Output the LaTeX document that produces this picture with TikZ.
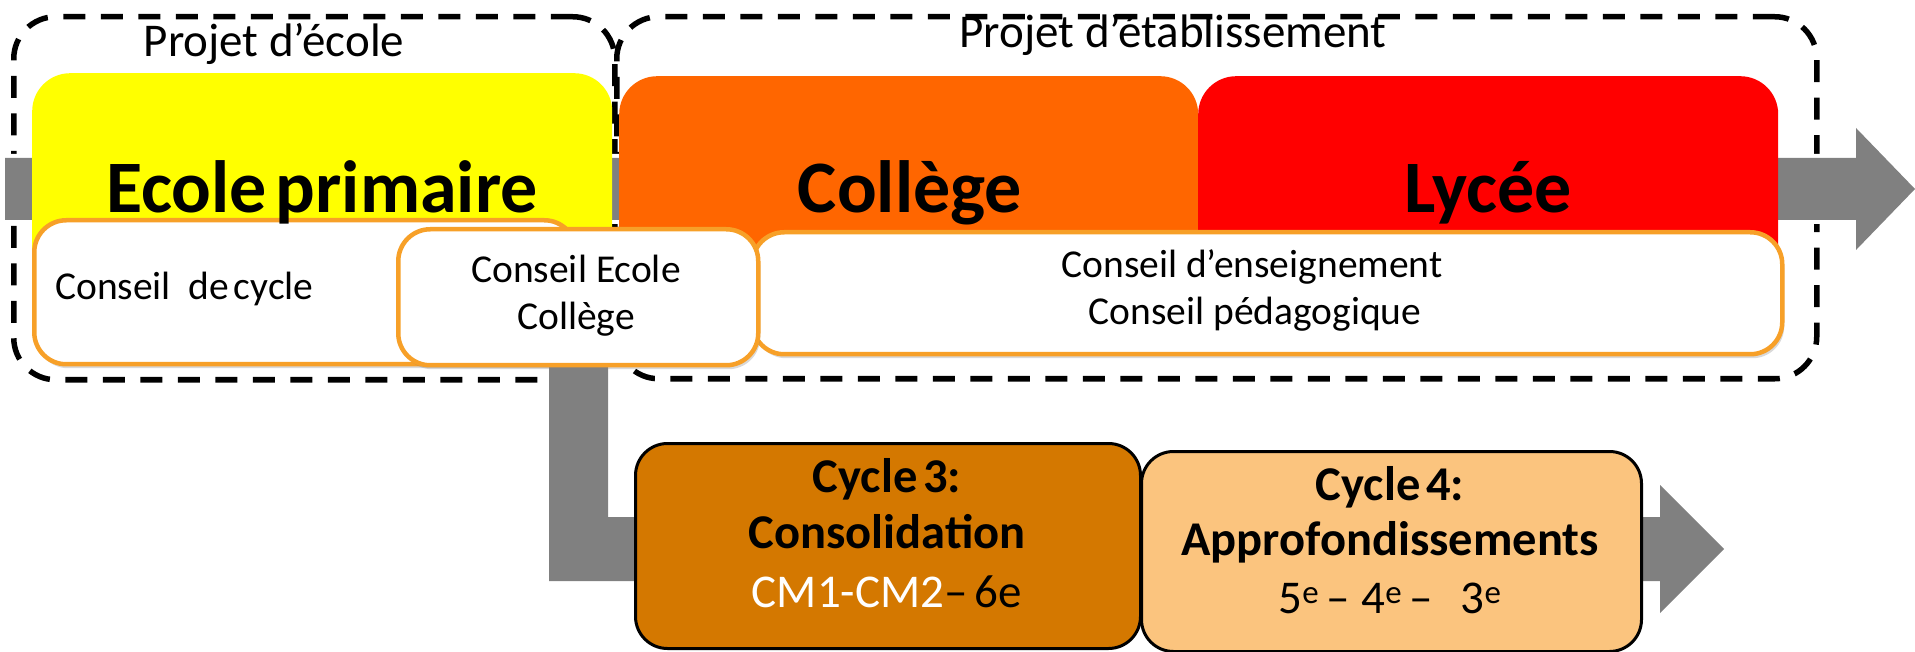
\documentclass[tikz,border=0pt]{standalone}
\usepackage{fontspec}
\setmainfont{Carlito}
\usetikzlibrary{shadows}
\definecolor{flowgrey}{RGB}{128,128,128}
\definecolor{stageyellow}{RGB}{255,255,0}
\definecolor{stageorange}{RGB}{255,102,0}
\definecolor{stagered}{RGB}{255,0,0}
\definecolor{councilorange}{RGB}{247,160,40}
\definecolor{cyclethree}{RGB}{212,120,0}
\definecolor{cyclefour}{RGB}{251,196,126}
\tikzset{
  projbox/.style={draw=black, line width=5.5pt, dash pattern=on 22pt off 15.5pt, rounded corners=42pt, inner sep=0pt, anchor=north west},
  stagebox/.style={rounded corners=38pt, inner sep=0pt, anchor=north west},
  councilbox/.style={draw=councilorange, fill=white, line width=4.5pt, rounded corners=32pt, inner sep=0pt, anchor=north west,
    drop shadow={opacity=0.3, shadow xshift=2pt, shadow yshift=-4pt}},
  cyclebox/.style={draw=black, line width=3pt, rounded corners=32pt, inner sep=0pt, anchor=north west},
  flow/.style={fill=flowgrey, preaction={draw=white, line width=8pt}},
  projtext/.style={anchor=base, inner sep=0pt, font=\fontsize{47}{52}\selectfont},
  stagetext/.style={anchor=base, inner sep=0pt, font=\fontsize{74}{80}\bfseries\selectfont},
  counciltext/.style={anchor=base, inner sep=0pt, font=\fontsize{39.5}{44}\selectfont},
  cycletitle/.style={anchor=base, inner sep=0pt, font=\fontsize{48.5}{54}\bfseries\selectfont},
  cyclesub/.style={anchor=base, inner sep=0pt, font=\fontsize{47}{52}\selectfont}
}
\begin{document}
\begin{tikzpicture}[x=1pt,y=-1pt]
\useasboundingbox (0,0) rectangle (1915,652);
% project frames
\node[projbox, minimum width=601pt, minimum height=363pt] (projecole) at (11,14) {};
\node[projbox, minimum width=1200pt, minimum height=362pt] (projetab) at (614,14) {};
% grey flows
\path[flow] (5,158) -- (1856,158) -- (1856,128) -- (1915,189) -- (1856,250) -- (1856,220) -- (5,220) -- cycle;
\path[flow] (549,330) -- (608,330) -- (608,517) -- (1660,517) -- (1660,485) -- (1724,549) -- (1660,613) -- (1660,581) -- (549,581) -- cycle;
% stages
\node[stagebox, fill=stageyellow, minimum width=580pt, minimum height=227pt] (ecole) at (32,73) {};
\node[stagebox, fill=stageorange, minimum width=579pt, minimum height=224pt] (college) at (619,76) {};
\node[stagebox, fill=stagered, minimum width=580pt, minimum height=224pt] (lycee) at (1198,76) {};
% councils
\node[councilbox, minimum width=542pt, minimum height=144pt] (cycle) at (32,218) {};
\node[councilbox, minimum width=1030pt, minimum height=122pt] (enseign) at (750,230) {};
\node[councilbox, minimum width=360pt, minimum height=136pt] (ecolecol) at (396,227) {};
% cycles
\node[cyclebox, fill=cyclethree, minimum width=505pt, minimum height=205pt] (cthree) at (634,442) {};
\node[cyclebox, fill=cyclefour, minimum width=500pt, minimum height=200pt] (cfour) at (1140,450) {};
% texts
\node[projtext] (tpecole) at (274,57) {Projet d’école};
\node[projtext] (tpetab) at (1173,48) {Projet d’établissement};
\node[stagetext] (tecole) at (322,213) {Ecole\hspace{0.12em}primaire};
\node[stagetext] (tcollege) at (910,213) {Collège};
\node[stagetext] (tlycee) at (1488,213) {Lycée};
\node[counciltext, anchor=base west] (tcycle) at (55,300) {Conseil\hspace{0.45em}de\hspace{0.12em}cycle};
\node[counciltext] (tec1) at (576,283) {Conseil Ecole};
\node[counciltext] (tec2) at (576,330) {Collège};
\node[counciltext] (ten1) at (1252,278) {Conseil d’enseignement};
\node[counciltext] (ten2) at (1255,325) {Conseil pédagogique};
\node[cycletitle] (c3a) at (887,492) {Cycle\hspace{0.12em}3:};
\node[cycletitle] (c3b) at (887,548) {Consolidation};
\node[cyclesub] (c3c) at (887,607) {\textcolor{white}{CM1-CM2}–\hspace{0.15em}6e};
\node[cycletitle] (c4a) at (1390,500) {Cycle\hspace{0.12em}4:};
\node[cycletitle] (c4b) at (1390,555) {Approfondissements};
\node[cyclesub] (c4c) at (1390,613) {5\textsuperscript{e}\hspace{0.15em}–\hspace{0.25em}4\textsuperscript{e}\hspace{0.15em}–\hspace{0.6em}3\textsuperscript{e}};
\end{tikzpicture}
\end{document}
